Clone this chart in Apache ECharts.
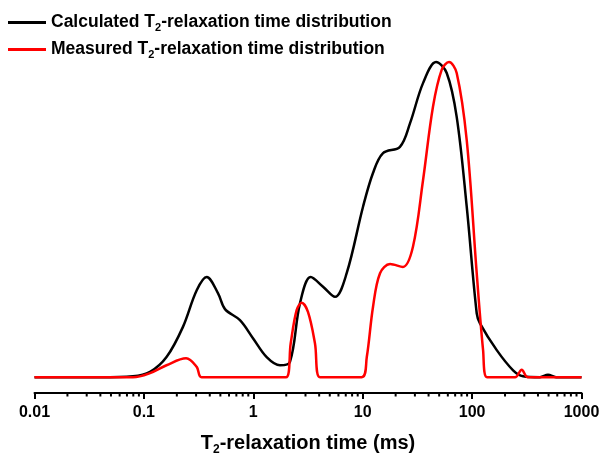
<!DOCTYPE html>
<html>
<head>
<meta charset="utf-8">
<script src="https://cdn.jsdelivr.net/npm/echarts@6/dist/echarts.min.js"></script>
<style>html,body{margin:0;padding:0;background:#fff}#c{width:601px;height:455px}</style>
</head>
<body>
<div id="c"></div>
<script>
// T2 relaxation time (ms) and normalized amplitude
const calcT = [0.01, 0.0397, 0.0794, 0.1138, 0.161, 0.227, 0.304, 0.375, 0.475, 0.551, 0.755, 0.993, 1.325, 1.754, 2.163, 2.673, 3.35, 4.34, 5.58, 7.14, 10.07, 12.42, 15.34, 21.9, 27.1, 35.6, 46.8, 58.6, 72.3, 89.3, 110.2, 118, 168, 237, 292, 417, 494, 585, 1000];
const calcV = [0, 0, 0.003, 0.017, 0.064, 0.159, 0.276, 0.318, 0.267, 0.216, 0.181, 0.124, 0.064, 0.038, 0.049, 0.235, 0.318, 0.287, 0.255, 0.330, 0.541, 0.648, 0.711, 0.731, 0.806, 0.933, 1.0, 0.965, 0.826, 0.541, 0.203, 0.171, 0.086, 0.022, 0.003, 0, 0.008, 0, 0];
const measT = [0.01, 0.0794, 0.1138, 0.161, 0.243, 0.304, 0.337, 1.99, 2.198, 2.49, 2.77, 3.16, 3.66, 4.07, 9.79, 10.9, 12.42, 14.4, 17.8, 23.3, 28.8, 35.6, 43.9, 52.7, 61.5, 72.3, 89.3, 110.2, 126, 137, 247, 284, 324, 1000];
const measV = [0, 0, 0.013, 0.038, 0.060, 0.033, 0, 0, 0.108, 0.213, 0.236, 0.207, 0.108, 0, 0, 0.064, 0.223, 0.330, 0.359, 0.350, 0.414, 0.625, 0.858, 0.975, 1.0, 0.965, 0.752, 0.330, 0.086, 0, 0, 0.024, 0, 0];
const majorTicks = ['0.01', '0.1', '1', '10', '100', '1000'];
const minorTicks = [];
[0.01, 0.1, 1, 10, 100].forEach(d => { for (let k = 2; k <= 9; k++) minorTicks.push(+(d * k).toPrecision(3)); });

const YMIN = -0.05;
const FONT = 'Liberation Sans, Arial';
const rich = {
  b: { fontFamily: FONT, fontWeight: 'bold', fontSize: 17.5, color: '#000' },
  s: { fontFamily: FONT, fontWeight: 'bold', fontSize: 11, color: '#000', padding: [11, 0, 0, 0] }
};
const richName = {
  b: { fontFamily: FONT, fontWeight: 'bold', fontSize: 20, color: '#000' },
  s: { fontFamily: FONT, fontWeight: 'bold', fontSize: 12, color: '#000', padding: [13, 0, 0, 0] }
};

const chart = echarts.init(document.getElementById('c'));
chart.setOption({
  animation: false,
  backgroundColor: '#fff',
  grid: { left: 34.5, right: 19.5, top: 62, bottom: 62, containLabel: false, outerBoundsMode: 'none' },
  legend: {
    orient: 'vertical', left: 8, top: 13.5, padding: 0, itemWidth: 38, itemHeight: 3, itemGap: 7,
    icon: 'rect',
    data: ['Calculated', 'Measured'],
    formatter: n => '{b|' + n + ' T}{s|2}{b|-relaxation time distribution}',
    textStyle: { rich: rich }
  },
  xAxis: {
    type: 'log', logBase: 10, min: 0.01, max: 1000,
    name: '{b|T}{s|2}{b|-relaxation time (ms)}',
    nameLocation: 'middle', nameGap: 38,
    nameTextStyle: { rich: richName },
    axisLine: { onZero: false, lineStyle: { color: '#000', width: 2 } },
    axisTick: { show: true, length: 6, lineStyle: { color: '#000', width: 2 } },
    axisLabel: {
      margin: 12, fontFamily: FONT, fontWeight: 'bold', fontSize: 16, color: '#000',
      formatter: v => { const i = Math.round(Math.log10(v)) + 2; return majorTicks[i] || ''; }
    },
    splitLine: { show: false }, minorTick: { show: false }
  },
  yAxis: { type: 'value', min: YMIN, max: 1.0, show: false, splitLine: { show: false } },
  series: [
    {
      name: 'Calculated', type: 'line', data: calcT.map((t, i) => [t, calcV[i]]),
      smooth: 0.35, symbol: 'none', clip: false,
      lineStyle: { color: '#000', width: 2.5 }, itemStyle: { color: '#000' }
    },
    {
      name: 'Measured', type: 'line', data: measT.map((t, i) => [t, measV[i]]),
      smooth: 0.35, symbol: 'none', clip: false,
      lineStyle: { color: '#ff0000', width: 2.5 }, itemStyle: { color: '#ff0000' }
    },
    {
      name: 'minor', type: 'custom', clip: false, silent: true,
      data: minorTicks.map(t => [t, YMIN]),
      renderItem: (params, api) => {
        const p = api.coord([api.value(0), api.value(1)]);
        return { type: 'line', shape: { x1: p[0], y1: p[1], x2: p[0], y2: p[1] + 3.5 }, style: { stroke: '#000', lineWidth: 2 } };
      }
    }
  ]
});
</script>
</body>
</html>
